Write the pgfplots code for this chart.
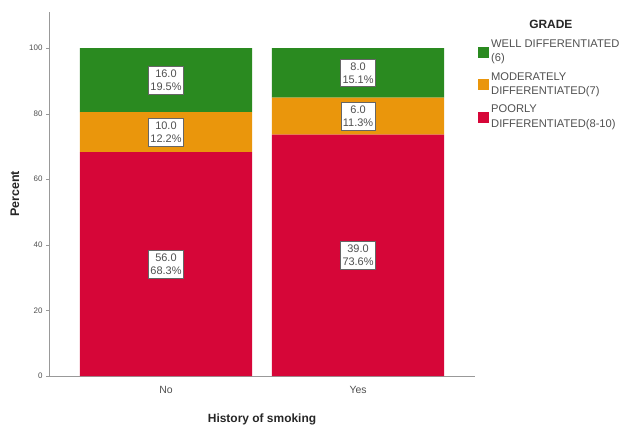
\documentclass[border=0pt]{standalone}
\usepackage{pgfplots}
\pgfplotsset{compat=1.18}
\usepackage{fontspec}
\setmainfont{Liberation Sans}
\definecolor{wellc}{RGB}{42,138,32}
\definecolor{modc}{RGB}{234,150,12}
\definecolor{poorc}{RGB}{214,6,56}
\definecolor{txtc}{RGB}{80,80,80}
\begin{document}
\begin{tikzpicture}[x=1bp,y=1bp]
\useasboundingbox (0,0) rectangle (625,428);
\begin{axis}[
    at={(49bp,52bp)}, anchor=south west,
    scale only axis, width=426bp, height=364bp,
    ybar stacked, bar width=0.896,
    xmin=-0.609, xmax=1.609, ymin=0, ymax=111,
    axis lines=left, axis line style={draw=gray!80, -},
    xtick={0,1}, xticklabels={No,Yes}, xtick style={draw=none},
    ytick={0,20,...,100}, tick align=outside, major tick length=3bp,
    ytick style={draw=gray!80},
    /pgf/number format/assume math mode=true,
    tick label style={font=\fontsize{8}{9}\selectfont, text=txtc},
    xticklabel style={font=\fontsize{10.5}{12}\selectfont, text=txtc, yshift=-4bp},
    xlabel={History of smoking}, ylabel={Percent},
    xlabel style={at={(axis description cs:0.5,-0.12)}, anchor=center, font=\bfseries\fontsize{12}{14}\selectfont, text=black!85},
    ylabel style={at={(axis description cs:-0.08,0.5)}, anchor=center, font=\bfseries\fontsize{12.5}{14}\selectfont, text=black!85},
    reverse legend,
    legend style={at={(axis description cs:1.0,0.935)}, anchor=north west, draw=none, fill=none,
      font=\fontsize{11.2}{14.5}\selectfont, text=txtc, row sep=5bp,
      cells={anchor=west, align=left}},
    legend image code/.code={\fill[#1] (0bp,-6bp) rectangle (11bp,5bp);},
]
\addplot[fill=poorc, draw=none] coordinates {(0,68.3) (1,73.6)};
\addplot[fill=modc, draw=none] coordinates {(0,12.2) (1,11.3)};
\addplot[fill=wellc, draw=none] coordinates {(0,19.5) (1,15.1)};
\legend{POORLY\\DIFFERENTIATED(8-10), MODERATELY\\DIFFERENTIATED(7), WELL DIFFERENTIATED\\(6)}
\end{axis}
\begin{axis}[
    at={(49bp,52bp)}, anchor=south west,
    scale only axis, width=426bp, height=364bp,
    xmin=-0.609, xmax=1.609, ymin=0, ymax=111,
    hide axis, clip=false,
]
\addplot[draw=none, mark=none,
    visualization depends on={value \thisrow{n}\as\cnt},
    visualization depends on={value \thisrow{p}\as\pct},
    nodes near coords={\cnt\\\pct\%},
    every node near coord/.append style={anchor=center, align=center, fill=white,
      draw=black!60, line width=0.7bp, inner xsep=2bp, inner ysep=3.5bp, text=txtc,
      font=\fontsize{11}{13}\selectfont},
] table {
x y n p
0 34.15 56.0 68.3
0 74.4 10.0 12.2
0 90.25 16.0 19.5
1 36.8 39.0 73.6
1 79.25 6.0 11.3
1 92.45 8.0 15.1
};
\node[font=\bfseries\fontsize{12}{14}\selectfont, text=black!85] at (rel axis cs:1.178,0.967) {GRADE};
\end{axis}
\end{tikzpicture}
\end{document}
